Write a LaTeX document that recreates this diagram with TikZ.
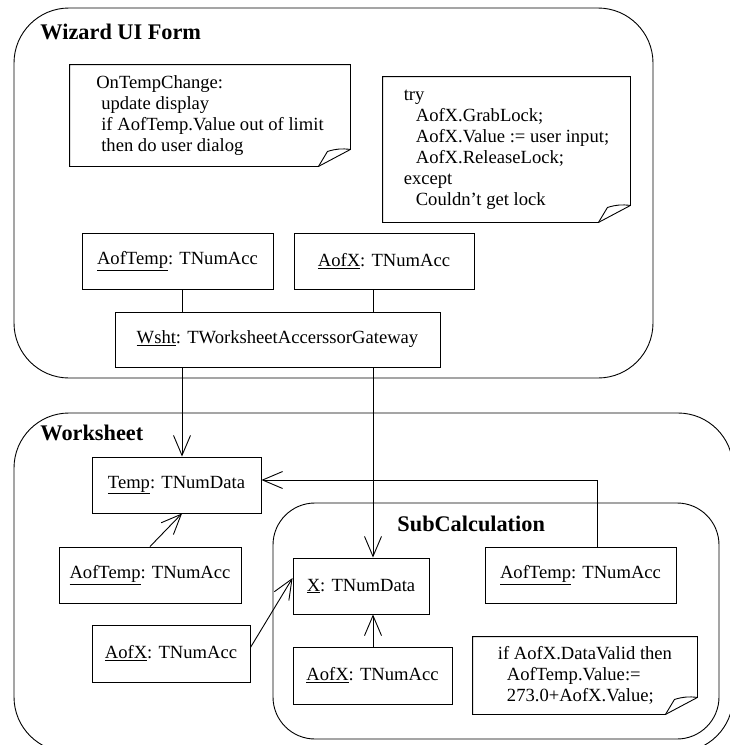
\documentclass[tikz,border=0pt]{standalone}
\usepackage{fontspec}
\setmainfont{Liberation Serif}
\usetikzlibrary{arrows.meta}

% note outline with folded corner
\newcommand{\drawnote}[1]{%
  \draw (#1.south west) -- (#1.north west) -- (#1.north east)
    -- ([yshift=17pt]#1.south east) -- ([xshift=-32pt]#1.south east) -- cycle;
  \draw ([xshift=-32pt]#1.south east) -- ([xshift=-23pt,yshift=15pt]#1.south east)
    to[bend left=12] ([yshift=17pt]#1.south east);
}

\begin{document}
\begin{tikzpicture}[x=1pt, y=-1pt, line width=0.9pt,
    font=\fontsize{18.6pt}{21pt}\selectfont,
    pkg/.style={draw, rounded corners=55pt},
    pkgname/.style={anchor=west, inner sep=0pt, font=\fontsize{22.3pt}{24pt}\selectfont\bfseries},
    obj/.style={draw, rectangle, inner sep=0pt, minimum height=56pt},
    note/.style={rectangle, inner sep=0pt, align=left},
    dep/.style={-{Straight Barb[length=20pt, width=17pt]}}]
  \useasboundingbox (0,0) rectangle (730,745);
  \clip (0,0) rectangle (730,745);

  % packages
  \draw[pkg] (14,8) rectangle (653,378);
  \draw[pkg] (14,413) rectangle (733,752);
  \draw[pkg, rounded corners=42pt] (273,503) rectangle (719,739);
  \node[pkgname] (wizname) at (40,32) {Wizard UI Form};
  \node[pkgname] (wsname) at (40,433) {Worksheet};
  \node[pkgname] (subname) at (397,524) {SubCalculation};

  % notes
  \node[note, minimum width=280pt, minimum height=101pt] (note1) at (210,115.5)
    {OnTempChange:\\
     \hspace*{5pt}update display\\
     \hspace*{5pt}if AofTemp.Value out of limit\\
     \hspace*{5pt}then do user dialog};
  \node[note, minimum width=247pt, minimum height=145pt] (note2) at (506.5,149.5)
    {try\\
     \hspace*{12pt}AofX.GrabLock;\\
     \hspace*{12pt}AofX.Value := user input;\\
     \hspace*{12pt}AofX.ReleaseLock;\\
     except\\
     \hspace*{12pt}Couldn't get lock};
  \node[note, minimum width=224pt, minimum height=77pt] (note3) at (585,675.5)
    {if AofX.DataValid then\\
     \hspace*{9pt}AofTemp.Value:=\\
     \hspace*{9pt}273.0+AofX.Value;};
  \drawnote{note1}
  \drawnote{note2}
  \drawnote{note3}

  % objects
  \node[obj, minimum width=191pt] (wAofTemp) at (177.5,261) {\underline{AofTemp}: TNumAcc};
  \node[obj, minimum width=180pt] (wAofX) at (384,261) {\underline{AofX}: TNumAcc};
  \node[obj, minimum width=325pt, minimum height=55pt] (wsht) at (277.5,339.5) {\underline{Wsht}: TWorksheetAccerssorGateway};
  \node[obj, minimum width=169pt] (tempdata) at (176.5,485) {\underline{Temp}: TNumData};
  \node[obj, minimum width=182pt] (sAofTemp) at (150,575) {\underline{AofTemp}: TNumAcc};
  \node[obj, minimum width=158pt, minimum height=57pt] (sAofX) at (171,653.5) {\underline{AofX}: TNumAcc};
  \node[obj, minimum width=136pt] (xdata) at (361,586) {\underline{X}: TNumData};
  \node[obj, minimum width=191pt] (cAofTemp) at (580.5,575) {\underline{AofTemp}: TNumAcc};
  \node[obj, minimum width=159pt, minimum height=57pt] (cAofX) at (372.5,675.5) {\underline{AofX}: TNumAcc};

  % connectors
  \coordinate (colA) at (182,0);
  \coordinate (colB) at (373,0);
  \coordinate (colC) at (597,0);
  \draw (wAofTemp.south -| colA) -- (wsht.north -| colA);
  \draw (wAofX.south -| colB) -- (wsht.north -| colB);
  \draw[dep] (wsht.south -| colA) -- (tempdata.north -| colA);
  \draw[dep] (wsht.south -| colB) -- (xdata.north -| colB);
  \draw[dep] (sAofTemp.north) -- (tempdata.south -| colA);
  \draw[dep] ([yshift=6pt]sAofX.east) -- ([yshift=8pt]xdata.west);
  \draw[dep] (cAofX.north -| colB) -- (xdata.south -| colB);
  \draw[dep] (cAofTemp.north -| colC) |- ([yshift=5pt]tempdata.east);
\end{tikzpicture}
\end{document}
